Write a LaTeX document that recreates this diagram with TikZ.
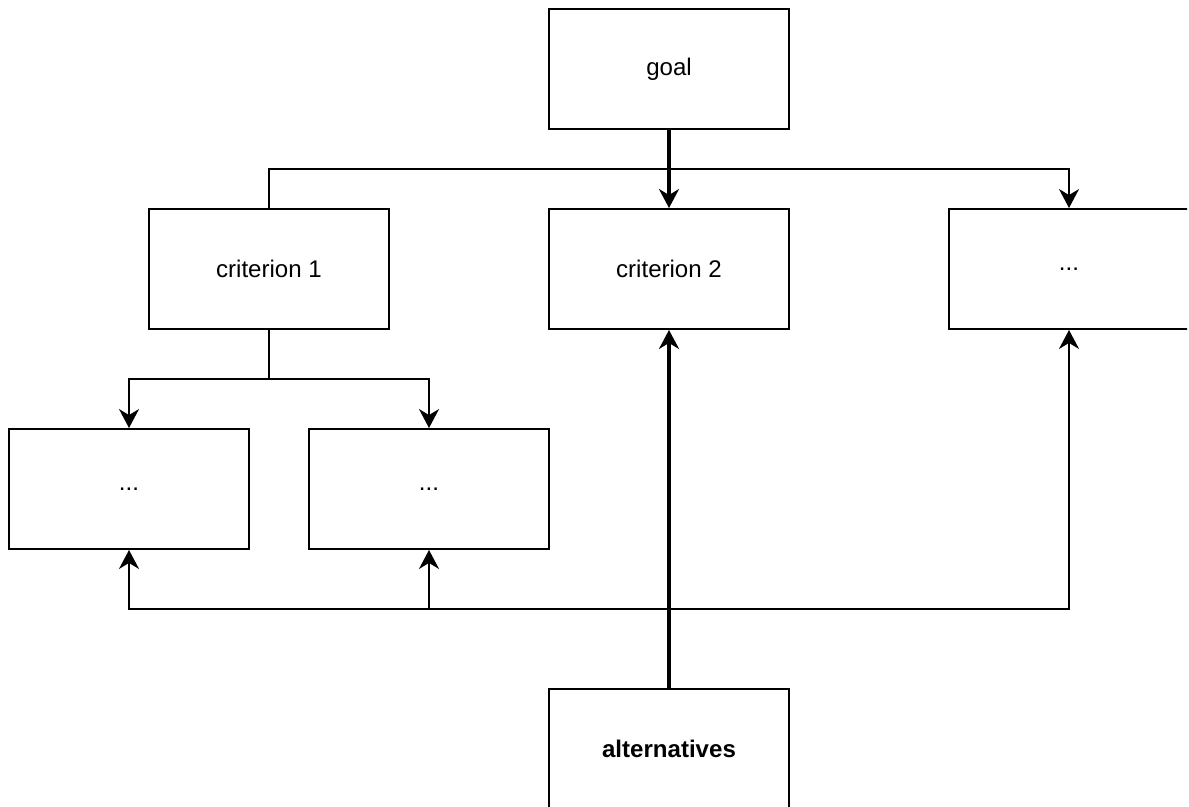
\documentclass[tikz,border=0pt]{standalone}
\usepackage{fontspec}
\setmainfont{Liberation Sans}
\usetikzlibrary{arrows.meta}

\begin{document}
\begin{tikzpicture}[x=0.02cm,y=-0.02cm,
        box/.style={draw,line width=1.1pt,minimum width=4.8cm,minimum height=2.4cm,inner sep=0pt,
          font=\fontsize{13.7}{16}\selectfont},
        link/.style={line width=1.1pt},
        mainlink/.style={line width=1.8pt},
        >={Stealth[length=3.8mm,width=4mm,inset=1.2mm]}]
        \useasboundingbox (0,0) rectangle (1189,807);
        \clip (0,0) rectangle (1187,807);

        \node[box] (goal) at (669,69) {goal};
        \node[box] (crit1) at (269,269) {criterion 1};
        \node[box] (crit2) at (669,269) {criterion 2};
        \node[box] (critn) at (1069,269) {...};
        \node[box] (sub1) at (129,489) {...};
        \node[box] (sub2) at (429,489) {...};
        \node[box] (alt) at (669,749) {\bfseries alternatives};

        \coordinate (gsplit) at (669,169);
        \coordinate (csplit) at (269,379);
        \coordinate (asplit) at (669,609);

        \draw [link] (gsplit) -| (crit1);
        \draw [link,->] (gsplit) -| (critn);
        \draw [mainlink,->] (goal) -- (crit2);

        \draw [link] (crit1) -- (csplit);
        \draw [link,->] (csplit) -| (sub1);
        \draw [link,->] (csplit) -| (sub2);

        \draw [link,->] (asplit) -| (sub1);
        \draw [link,->] (asplit) -| (sub2);
        \draw [link,->] (asplit) -| (critn);
        \draw [mainlink,->] (alt) -- (crit2);
      \end{tikzpicture}
\end{document}
